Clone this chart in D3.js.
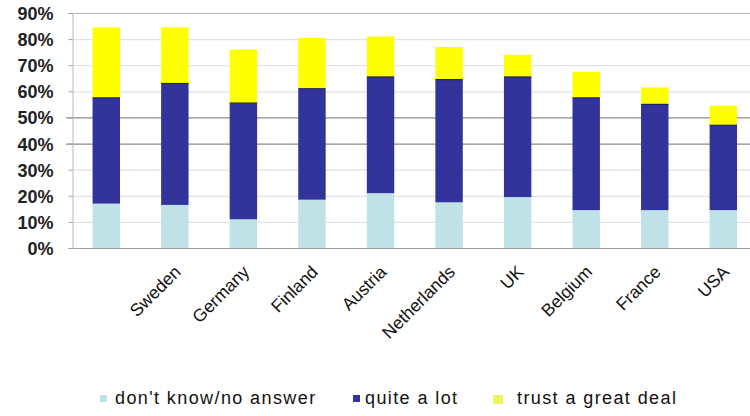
<!DOCTYPE html>
<html>
<head>
<meta charset="utf-8">
<script src="https://cdn.jsdelivr.net/npm/d3@7"></script>
<style>
  html, body { margin: 0; padding: 0; background: #fff; }
  svg { display: block; }
  text { font-family: "Liberation Sans", Arial, sans-serif; }
</style>
</head>
<body>
<svg id="chart" width="750" height="416"></svg>
<script>
// Trust survey: share of respondents per country, stacked by answer
const countries = ["", "Sweden", "Germany", "Finland", "Austria", "Netherlands", "UK", "Belgium", "France", "USA"];
const dontKnow  = [17, 16.5, 11, 18.5, 21, 17.5, 19.5, 14.5, 14.5, 14.5];
const quiteALot = [40.5, 46.5, 44.5, 42.5, 44.5, 47, 46, 43, 40.5, 32.5];
const greatDeal = [27, 21.5, 20.5, 19.5, 15.5, 12.5, 8.5, 10, 6.5, 7.5];
const yTicks = [0, 10, 20, 30, 40, 50, 60, 70, 80, 90];
const seriesNames = ["don't know/no answer", "quite a lot", "trust a great deal"];
const seriesColors = ["#bfe2e6", "#33339c", "#ffff00"];

const svg = d3.select("#chart");

const x = d3.scaleBand()
  .domain(countries)
  .range([72, 757.6])
  .paddingInner(0.6)
  .paddingOuter(0.3);

const y = d3.scaleLinear().domain([0, 90]).range([248, 13]);

// gridlines
const grid = svg.append("g");
grid.selectAll("line")
  .data(yTicks)
  .join("line")
  .attr("x1", d => (d === 40 || d === 50) ? 66 : 72)
  .attr("x2", 750)
  .attr("y1", d => y(d) + 0.5)
  .attr("y2", d => y(d) + 0.5)
  .attr("stroke", d => d === 0 ? "#a0a0a0" : (d === 40 || d === 50) ? "#8c8c8c" : d === 90 ? "#b4b4b4" : "#e2e2ee")
  .attr("stroke-width", 1.2);

// y axis
const yAxis = d3.axisLeft(y)
  .tickValues(yTicks)
  .tickFormat(d => d + "%")
  .tickSize(4)
  .tickPadding(15);
const ya = svg.append("g").attr("transform", "translate(72.5,0)").call(yAxis);
ya.select(".domain").attr("stroke", "#b8b8b8");
ya.selectAll(".tick line").attr("stroke", "#a0a0a0");
ya.selectAll(".tick text")
  .attr("fill", "#222")
  .style("font-size", "18px")
  .style("font-weight", "bold")
  .attr("dy", "0.36em");

// stacked bars
const rows = countries.map((c, i) => ({ country: c, dk: dontKnow[i], ql: quiteALot[i], gd: greatDeal[i] }));
const stack = d3.stack().keys(["dk", "ql", "gd"]);
const layers = stack(rows);

svg.append("g")
  .selectAll("g")
  .data(layers)
  .join("g")
  .attr("fill", (d, i) => seriesColors[i])
  .selectAll("rect")
  .data(d => d)
  .join("rect")
  .attr("x", d => x(d.data.country))
  .attr("width", x.bandwidth())
  .attr("y", d => y(d[1]))
  .attr("height", d => y(d[0]) - y(d[1]));

// thin dark separator at the top of the "quite a lot" segment
svg.append("g")
  .selectAll("line")
  .data(layers[1])
  .join("line")
  .attr("x1", d => x(d.data.country))
  .attr("x2", d => x(d.data.country) + x.bandwidth())
  .attr("y1", d => y(d[1]))
  .attr("y2", d => y(d[1]))
  .attr("stroke", "#222255")
  .attr("stroke-width", 1.2);

// rotated country labels
svg.append("g")
  .selectAll("text")
  .data(countries)
  .join("text")
  .attr("transform", d => `translate(${x(d) + x.bandwidth() / 2 + 7},${273}) rotate(-45)`)
  .attr("text-anchor", "end")
  .attr("fill", "#111")
  .style("font-size", "17.5px")
  .text(d => d);

// legend
const legendSwatchX = [100, 353, 493];
const legendTextX = [115, 365, 517];
const lg = svg.append("g")
  .selectAll("g")
  .data(seriesNames)
  .join("g");
lg.append("rect")
  .attr("x", (d, i) => legendSwatchX[i])
  .attr("y", 395)
  .attr("width", (d, i) => i === 2 ? 10 : 7)
  .attr("height", (d, i) => i === 2 ? 9 : 7)
  .attr("fill", (d, i) => i === 2 ? "#eef55a" : seriesColors[i]);
lg.append("text")
  .attr("x", (d, i) => legendTextX[i])
  .attr("y", 404)
  .attr("fill", "#111")
  .style("font-size", "18px")
  .style("letter-spacing", "1.4px")
  .text(d => d);
</script>
</body>
</html>
